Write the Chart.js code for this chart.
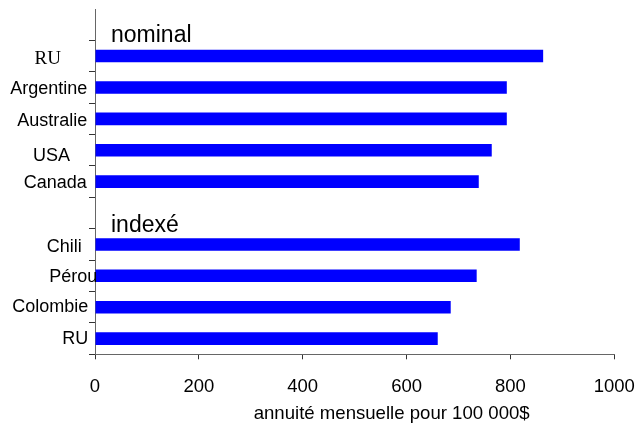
<!DOCTYPE html>
<html>
<head>
<meta charset="utf-8">
<script src="https://cdn.jsdelivr.net/npm/chart.js@4"></script>
<style>
  html, body { margin: 0; padding: 0; background: #fff; }
  #wrap { width: 639px; height: 423px; }
</style>
</head>
<body>
<div id="wrap"><canvas id="c" width="639" height="423"></canvas></div>
<script>
// ---- data ----
const groupNames = ['nominal', 'indexé'];
const nominalCountries = ['RU', 'Argentine', 'Australie', 'USA', 'Canada'];
const nominalValues = [863, 793, 793, 764, 739];
const indexedCountries = ['Chili', 'Pérou', 'Colombie', 'RU'];
const indexedValues = [818, 735, 685, 660];
const xTickValues = [0, 200, 400, 600, 800, 1000];
const axisTitle = 'annuité mensuelle pour 100 000$';

// each group gets an empty heading row above its bars
const categories = ['', ...nominalCountries, '', ...indexedCountries];
const values = [null, ...nominalValues, null, ...indexedValues];
const headingRows = [0, nominalCountries.length + 1];

// ---- styling ----
const SANS = '"Liberation Sans", Arial, Helvetica, sans-serif';
const SERIF = '"Liberation Serif", "Times New Roman", serif';
// per-row label look: family, size, right edge relative to the axis, baseline below row centre
const rowLabelStyle = [
  null,
  [SERIF, 19, -34, 7.9],
  [SANS, 18, -7.7, 6.8],
  [SANS, 18, -7.7, 7.1],
  [SANS, 18, -25, 10.4],
  [SANS, 18, -8.3, 6.6],
  null,
  [SANS, 18, -13.3, 7.3],
  [SANS, 18, 2.3, 5.9],
  [SANS, 18, -6.7, 4.8],
  [SANS, 18, -6.7, 5.7]
];
const headingBaseline = [17.6, 18.7];

const rowLabels = {
  id: 'rowLabels',
  afterDraw(chart) {
    const { ctx, chartArea, scales: { x, y } } = chart;
    ctx.save();
    ctx.fillStyle = '#000';
    ctx.textBaseline = 'alphabetic';

    // country names next to the vertical axis
    ctx.textAlign = 'right';
    categories.forEach((name, i) => {
      const s = rowLabelStyle[i];
      if (!name || !s) return;
      ctx.font = `${s[1]}px ${s[0]}`;
      ctx.fillText(name, chartArea.left + s[2], y.getPixelForValue(i) + s[3]);
    });

    // group headings inside the plot
    ctx.textAlign = 'left';
    ctx.font = `23px ${SANS}`;
    headingRows.forEach((row, k) => {
      ctx.fillText(groupNames[k], chartArea.left + 16, y.getPixelForValue(row) + headingBaseline[k]);
    });

    // horizontal axis title
    ctx.textAlign = 'center';
    ctx.font = `18.6px ${SANS}`;
    ctx.fillText(axisTitle, (chartArea.left + chartArea.right) / 2 + 37, x.bottom - 4);
    ctx.restore();
  }
};

new Chart(document.getElementById('c'), {
  type: 'bar',
  data: {
    labels: categories,
    datasets: [{
      data: values,
      backgroundColor: '#0000ff',
      borderWidth: 0,
      barPercentage: 0.4,
      categoryPercentage: 1
    }]
  },
  options: {
    indexAxis: 'y',
    responsive: false,
    animation: false,
    layout: { padding: { top: 9, right: 24.7, bottom: 0, left: 0 } },
    plugins: { legend: { display: false }, tooltip: { enabled: false } },
    scales: {
      x: {
        min: 0,
        max: 1000,
        afterBuildTicks: s => { s.ticks = xTickValues.map(v => ({ value: v })); },
        ticks: {
          font: { family: SANS, size: 18.5 },
          color: '#000',
          padding: 17,
          maxRotation: 0,
          autoSkip: false,
          callback: v => String(v)
        },
        grid: { drawOnChartArea: false, tickLength: 5, color: '#333' },
        border: { color: '#666' },
        afterFit: s => {
          s.height = 68.7;
          s.paddingLeft = 0;
          s.paddingRight = 0;
        }
      },
      y: {
        type: 'category',
        offset: true,
        ticks: { display: false },
        grid: {
          drawOnChartArea: false,
          offset: true,
          tickLength: 6,
          color: c => (c.index === 0 ? 'rgba(0,0,0,0)' : '#333')
        },
        border: { color: '#666' },
        afterFit: s => {
          s.width = 95;
          s.paddingTop = 0;
          s.paddingBottom = 0;
        }
      }
    }
  },
  plugins: [rowLabels]
});
</script>
</body>
</html>
